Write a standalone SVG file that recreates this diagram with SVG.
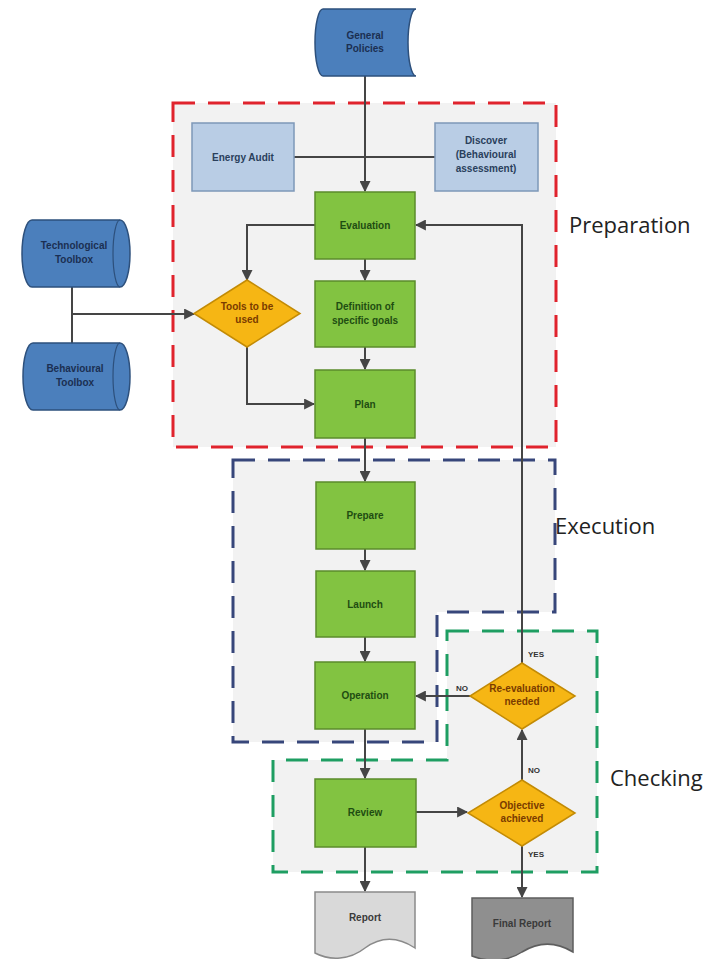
<svg xmlns="http://www.w3.org/2000/svg" width="706" height="959" viewBox="0 0 706 959">
  <style>
    .lbl { font-family: "Liberation Sans", Arial, sans-serif; font-weight: bold; font-size: 10px; text-anchor: middle; }
    .g-txt { fill: #1f4d12; }
    .d-txt { fill: #7a3b00; }
    .b-txt { fill: #1b2f52; }
    .lb-txt { fill: #2a3f5c; }
    .r-txt { fill: #3a3a3a; }
    .phase { font-family: "Open Sans", "Liberation Sans", sans-serif; font-size: 22px; fill: #222; }
    .small { font-family: "Liberation Sans", Arial, sans-serif; font-weight: bold; font-size: 8px; fill: #333; }
    .green { fill: #82c341; stroke: #5b8c2b; stroke-width: 1.5; }
    .diamond { fill: #f6b614; stroke: #c38b05; stroke-width: 1.5; }
    .lblue { fill: #b9cde5; stroke: #7e98b8; stroke-width: 1.5; }
    .dblue { fill: #4b7fbc; stroke: #2d507c; stroke-width: 1.5; }
    .conn { fill: none; stroke: #454545; stroke-width: 2; }
    .zone { fill: #f2f2f2; }
    .dash { fill: none; stroke-width: 3; stroke-dasharray: 22 13; }
  </style>
  <defs>
    <marker id="arr" viewBox="0 0 10 10" refX="9" refY="5" markerWidth="5.5" markerHeight="5.5" orient="auto">
      <path d="M0,0 L10,5 L0,10 Z" fill="#454545"/>
    </marker>
  </defs>

  <rect width="706" height="959" fill="#ffffff"/>

  <!-- phase zones -->
  <g id="zones">
    <rect class="zone" x="173" y="103" width="383" height="344"/>
    <path class="zone" d="M233,460 H555 V612 H437 V742 H233 Z"/>
    <path class="zone" d="M447,631 H597 V872 H273 V760 H447 Z"/>
    <rect class="dash" x="173" y="103" width="383" height="344" stroke="#e0232d"/>
    <path class="dash" d="M233,460 H555 V612 H437 V742 H233 Z" stroke="#37467a"/>
    <path class="dash" d="M447,631 H597 V872 H273 V760 H447 Z" stroke="#1e9e62"/>
    <text class="phase" x="569" y="233">Preparation</text>
    <text class="phase" x="555" y="534">Execution</text>
    <text class="phase" x="610" y="786">Checking</text>
  </g>

  <!-- connectors -->
  <g id="connectors">
    <path class="conn" d="M365,76 V191" marker-end="url(#arr)"/>
    <path class="conn" d="M294,157 H435"/>
    <path class="conn" d="M315,225 H247 V280" marker-end="url(#arr)"/>
    <path class="conn" d="M365,259 V280" marker-end="url(#arr)"/>
    <path class="conn" d="M365,347 V369" marker-end="url(#arr)"/>
    <path class="conn" d="M247,347 V404 H314" marker-end="url(#arr)"/>
    <path class="conn" d="M72,287 V343"/>
    <path class="conn" d="M72,314 H194" marker-end="url(#arr)"/>
    <path class="conn" d="M365,438 V481" marker-end="url(#arr)"/>
    <path class="conn" d="M365,549 V570" marker-end="url(#arr)"/>
    <path class="conn" d="M365,637 V661" marker-end="url(#arr)"/>
    <path class="conn" d="M365,729 V778" marker-end="url(#arr)"/>
    <path class="conn" d="M416,812 H467" marker-end="url(#arr)"/>
    <path class="conn" d="M522,780 V730" marker-end="url(#arr)"/>
    <path class="conn" d="M470,696 H416" marker-end="url(#arr)"/>
    <path class="conn" d="M522,663 V225 H416" marker-end="url(#arr)"/>
    <path class="conn" d="M522,846 V897" marker-end="url(#arr)"/>
    <path class="conn" d="M365,847 V891" marker-end="url(#arr)"/>
    <text class="small" x="528" y="773">NO</text>
    <text class="small" x="528" y="657">YES</text>
    <text class="small" x="456" y="691">NO</text>
    <text class="small" x="528" y="857">YES</text>
  </g>

  <g id="general-policies">
    <path class="dblue" d="M323,9 H416 A8,33.5 0 0 0 416,76 H323 A8,33.5 0 0 1 323,9 Z"/>
    <text class="lbl b-txt" x="365" y="39">General</text>
    <text class="lbl b-txt" x="365" y="52">Policies</text>
  </g>

  <g id="energy-audit">
    <rect class="lblue" x="192" y="123" width="102" height="68"/>
    <text class="lbl lb-txt" x="243" y="161">Energy Audit</text>
  </g>

  <g id="discover">
    <rect class="lblue" x="435" y="123" width="103" height="68"/>
    <text class="lbl lb-txt" x="486" y="144">Discover</text>
    <text class="lbl lb-txt" x="486" y="158">(Behavioural</text>
    <text class="lbl lb-txt" x="486" y="172">assessment)</text>
  </g>

  <g id="technological-toolbox">
    <path class="dblue" d="M32,220 H120 A10,33.5 0 0 1 120,287 H32 A10,33.5 0 0 1 32,220 Z"/>
    <path fill="none" stroke="#2d507c" stroke-width="1.2" d="M120,220 A7,33.5 0 0 0 120,287"/>
    <text class="lbl b-txt" x="74" y="249">Technological</text>
    <text class="lbl b-txt" x="74" y="263">Toolbox</text>
  </g>

  <g id="behavioural-toolbox">
    <path class="dblue" d="M33,343 H120 A10,33.5 0 0 1 120,410 H33 A10,33.5 0 0 1 33,343 Z"/>
    <path fill="none" stroke="#2d507c" stroke-width="1.2" d="M120,343 A7,33.5 0 0 0 120,410"/>
    <text class="lbl b-txt" x="75" y="372">Behavioural</text>
    <text class="lbl b-txt" x="75" y="386">Toolbox</text>
  </g>

  <g id="evaluation">
    <rect class="green" x="315" y="192" width="100" height="67"/>
    <text class="lbl g-txt" x="365" y="229">Evaluation</text>
  </g>

  <g id="tools-to-be-used">
    <polygon class="diamond" points="247,280 300,313.5 247,347 194,313.5"/>
    <text class="lbl d-txt" x="247" y="310">Tools to be</text>
    <text class="lbl d-txt" x="247" y="323">used</text>
  </g>

  <g id="definition">
    <rect class="green" x="315" y="281" width="100" height="66"/>
    <text class="lbl g-txt" x="365" y="310">Definition of</text>
    <text class="lbl g-txt" x="365" y="324">specific goals</text>
  </g>

  <g id="plan">
    <rect class="green" x="315" y="370" width="100" height="68"/>
    <text class="lbl g-txt" x="365" y="408">Plan</text>
  </g>

  <g id="prepare">
    <rect class="green" x="316" y="482" width="99" height="67"/>
    <text class="lbl g-txt" x="365" y="519">Prepare</text>
  </g>

  <g id="launch">
    <rect class="green" x="316" y="571" width="99" height="66"/>
    <text class="lbl g-txt" x="365" y="608">Launch</text>
  </g>

  <g id="operation">
    <rect class="green" x="315" y="662" width="100" height="67"/>
    <text class="lbl g-txt" x="365" y="699">Operation</text>
  </g>

  <g id="re-evaluation-needed">
    <polygon class="diamond" points="522,663 575,696 522,729 470,696"/>
    <text class="lbl d-txt" x="522" y="692">Re-evaluation</text>
    <text class="lbl d-txt" x="522" y="705">needed</text>
  </g>

  <g id="review">
    <rect class="green" x="315" y="779" width="101" height="68"/>
    <text class="lbl g-txt" x="365" y="816">Review</text>
  </g>

  <g id="objective-achieved">
    <polygon class="diamond" points="522,780 575,813 522,846 468,813"/>
    <text class="lbl d-txt" x="522" y="809">Objective</text>
    <text class="lbl d-txt" x="522" y="822">achieved</text>
  </g>

  <g id="report">
    <path fill="#d9d9d9" stroke="#8a8a8a" stroke-width="1.5" d="M315,892 H415 V948 C397,936 380,937 365,948 C350,960 330,961 315,953 Z"/>
    <text class="lbl r-txt" x="365" y="921">Report</text>
  </g>

  <g id="final-report">
    <path fill="#8f8f8f" stroke="#5e5e5e" stroke-width="1.5" d="M472,898 H573 V952 C555,941 538,942 522,952 C507,962 487,962 472,956 Z"/>
    <text class="lbl r-txt" x="522" y="927">Final Report</text>
  </g>
</svg>
